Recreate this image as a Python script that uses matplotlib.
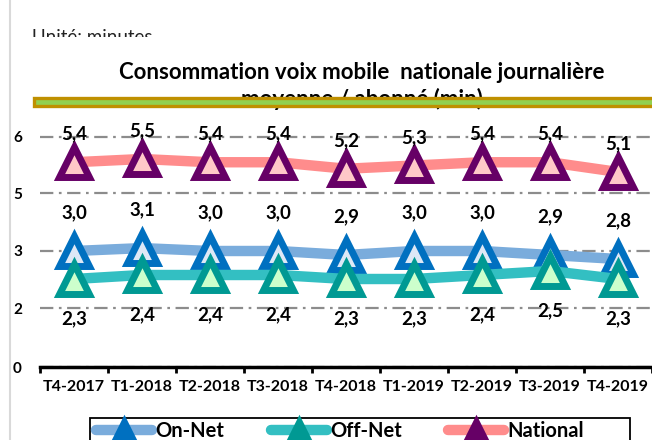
import numpy as np
import matplotlib.pyplot as plt
from matplotlib.patches import Rectangle
from matplotlib.lines import Line2D

plt.rcParams['font.family'] = ['Lato', 'DejaVu Sans']

quarters = ['T4-2017', 'T1-2018', 'T2-2018', 'T3-2018', 'T4-2018',
            'T1-2019', 'T2-2019', 'T3-2019', 'T4-2019']
on_net = [3.0, 3.1, 3.0, 3.0, 2.9, 3.0, 3.0, 2.9, 2.8]
off_net = [2.3, 2.4, 2.4, 2.4, 2.3, 2.3, 2.4, 2.5, 2.3]
national = [5.4, 5.5, 5.4, 5.4, 5.2, 5.3, 5.4, 5.4, 5.1]
y_ticks = [0, 2, 3, 5, 6]

# the value axis of the original is not linear: breakpoints of its scale
knots_val = [0, 2, 2.3, 3, 5, 5.1, 5.5, 6, 6.5]
knots_pos = [0, 59, 88, 116, 174, 195, 208, 230, 247]


def fwd(v):
    return np.interp(v, knots_val, knots_pos)


def inv(p):
    return np.interp(p, knots_pos, knots_val)


W, H = 652, 440
fig = plt.figure(figsize=(W / 100, H / 100), dpi=100)


def fx(px):
    return px / W


def fy(py):
    return 1 - py / H


# unit note, partly hidden behind the chart area
fig.text(fx(32), fy(43), 'Unité: minutes', fontsize=13.5, color='#222222',
         ha='left', va='baseline', zorder=-3)
fig.patches.append(Rectangle((fx(11), 0), 1, fy(37), transform=fig.transFigure,
                             facecolor='white', edgecolor='none', zorder=-2))
fig.lines.append(Line2D([fx(10), fx(10)], [0, 1], transform=fig.transFigure,
                        color='#D9D9D9', lw=1.5, zorder=-1))

fig.text(fx(362), fy(79), 'Consommation voix mobile  nationale journalière',
         fontsize=16, fontweight='bold', ha='center', va='baseline')
fig.text(fx(362), fy(106), 'moyenne / abonné (min)',
         fontsize=16, fontweight='bold', ha='center', va='baseline')
fig.patches.append(Rectangle((fx(34), fy(106)), 1, 8 / H, transform=fig.transFigure,
                             facecolor='#92D050', edgecolor='#BF9000', lw=2.4, zorder=5))

ax = fig.add_axes([fx(40), fy(367), fx(612), 247 / H])
ax.set_facecolor('none')
ax.set_yscale('function', functions=(fwd, inv))
x = np.arange(len(quarters))

series = [
    ('On-Net', on_net, '#7AACDC', '#0070C0', '#DDE8F6', 38),
    ('Off-Net', off_net, '#33BFC2', '#009993', '#CCFFCC', -40),
    ('National', national, '#FF8C8C', '#660066', '#FFC8C8', 28),
]
for name, vals, lc, ec, fc, off in series:
    ax.plot(x, vals, color=lc, lw=7.5, solid_capstyle='round', solid_joinstyle='round',
            marker='^', markersize=21, markeredgewidth=5, markeredgecolor=ec,
            markerfacecolor=fc, label=name, clip_on=False)
    for xi, v in zip(x, vals):
        ax.annotate(f'{v:.1f}'.replace('.', ','), (xi, v), xytext=(0, off * 0.72),
                    textcoords='offset points', ha='center', va='center',
                    fontsize=13.5, fontweight='bold')

ax.set_xlim(-0.5, len(quarters) - 0.5)
ax.set_ylim(0, 6.5)
ax.set_yticks(y_ticks)
ax.set_yticklabels([str(t) for t in y_ticks], fontsize=11, fontweight='bold')
ax.set_xticks(x)
ax.set_xticklabels(quarters, fontsize=11.5, fontweight='bold')
ax.set_xticks(np.arange(-0.5, len(quarters), 1), minor=True)
ax.tick_params(axis='x', which='major', length=0, pad=9)
ax.tick_params(axis='x', which='minor', length=4, width=2, color='black', direction='out')
ax.tick_params(axis='y', length=0, pad=13)
ax.yaxis.grid(True, color='#8C8C8C', lw=1.6, linestyle=(0, (6, 2.5, 1.2, 2.5)))
ax.set_axisbelow(True)
for s in ['top', 'right', 'left']:
    ax.spines[s].set_visible(False)
ax.spines['bottom'].set_linewidth(2.5)

# legend box of the original is wider than its entries
fig.patches.append(Rectangle((fx(90), fy(448)), fx(540), 30 / H, transform=fig.transFigure,
                             facecolor='white', edgecolor='black', lw=1.3, zorder=4))
leg = fig.legend(loc='center left', bbox_to_anchor=(fx(96), fy(431)),
                 ncol=3, frameon=False, prop={'weight': 'bold', 'size': 14.5},
                 handlelength=2.8, borderpad=0, borderaxespad=0,
                 columnspacing=2.3, handletextpad=0.15)
leg.set_zorder(6)
for h in leg.legend_handles:
    h.set_markersize(12)
    h.set_markerfacecolor(h.get_markeredgecolor())

fig.savefig('out.png', dpi=100)
